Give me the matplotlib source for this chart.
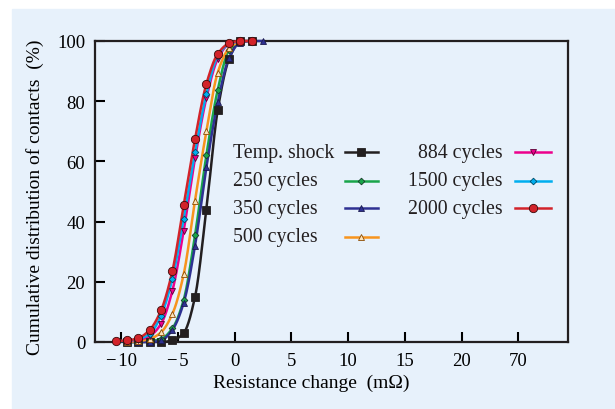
import numpy as np
import matplotlib
matplotlib.use("Agg")
import matplotlib.pyplot as plt
from matplotlib.lines import Line2D

# ---------------- data ----------------
x_grid = [-10.5, -9.5, -8.5, -7.5, -6.5, -5.5, -4.5, -3.5, -2.5, -1.5, -0.5, 0.5, 1.5, 2.5]

temp_shock_x = x_grid[1:13]
temp_shock = [0, 0, 0, 0, 0.5, 3, 15, 44, 77, 94, 100, 100]

c250_x = x_grid[1:12]
c250 = [0, 0, 0.3, 1, 4.5, 14, 35.5, 62, 83.7, 97, 100]

c350_x = x_grid[1:14]
c350 = [0, 0, 0, 0.5, 4, 13, 32, 58, 79.6, 94.3, 99.5, 100, 100]

c500_x = x_grid[1:12]
c500 = [0, 0.3, 1, 3.2, 9.3, 22.5, 47, 70, 89.5, 97.6, 100]

c884_x = x_grid[1:12]
c884 = [0.3, 0.7, 2, 6, 17, 37, 61, 81, 94, 99, 100]

c1500_x = x_grid[0:12]
c1500 = [0.2, 0.4, 1, 2.7, 8.7, 21, 41, 63, 82.4, 95, 99, 100]

c2000_x = x_grid[0:13]
c2000 = [0.3, 0.5, 1.3, 4, 10.5, 23.5, 45.5, 67.4, 85.7, 95.7, 99.2, 100, 100]

labels = ["Temp. shock", "250 cycles", "350 cycles", "500 cycles",
          "884 cycles", "1500 cycles", "2000 cycles"]
xticks = [-10, -5, 0, 5, 10, 15, 20, 25]
xticklabels = ["\u2212\u200a10", "\u2212\u200a5", "0", "5", "10", "15", "20", "70"]
yticks = [0, 20, 40, 60, 80, 100]

# ---------------- styles ----------------
BG = "#e7f1fb"
styles = [
    dict(color="#231f20", marker="s", ms=5.4, mfc="#231f20", mec="#231f20"),
    dict(color="#19a54a", marker="D", ms=3.4, mfc="#19a54a", mec="#1a3a2a"),
    dict(color="#2e3192", marker="^", ms=4.8, mfc="#2e3192", mec="#1a1a50"),
    dict(color="#f7941d", marker="^", ms=4.8, mfc="#fde3b8", mec="#8a4a00"),
    dict(color="#ec008c", marker="v", ms=4.8, mfc="#ec008c", mec="#5a0035"),
    dict(color="#00aeef", marker="D", ms=3.4, mfc="#00aeef", mec="#004a66"),
    dict(color="#d2232a", marker="o", ms=6.0, mfc="#d2232a", mec="#3a0a0a"),
]
series = [(temp_shock_x, temp_shock), (c250_x, c250), (c350_x, c350),
          (c500_x, c500), (c884_x, c884), (c1500_x, c1500), (c2000_x, c2000)]


def pchip(x, y, n=30):
    x = np.asarray(x, float)
    y = np.asarray(y, float)
    h = np.diff(x)
    d = np.diff(y) / h
    m = np.zeros_like(y)
    for i in range(1, len(y) - 1):
        if d[i - 1] * d[i] <= 0:
            m[i] = 0
        else:
            w1 = 2 * h[i] + h[i - 1]
            w2 = h[i] + 2 * h[i - 1]
            m[i] = (w1 + w2) / (w1 / d[i - 1] + w2 / d[i])
    m[0] = d[0] if d[0] > 0 else 0
    m[-1] = d[-1] if d[-1] > 0 else 0
    xs, ys = [], []
    for i in range(len(h)):
        t = np.linspace(0, 1, n, endpoint=False)
        h00 = 2 * t**3 - 3 * t**2 + 1
        h10 = t**3 - 2 * t**2 + t
        h01 = -2 * t**3 + 3 * t**2
        h11 = t**3 - t**2
        xs.append(x[i] + t * h[i])
        ys.append(h00 * y[i] + h10 * h[i] * m[i] + h01 * y[i + 1] + h11 * h[i] * m[i + 1])
    xs.append([x[-1]])
    ys.append([y[-1]])
    return np.concatenate(xs), np.concatenate(ys)


plt.rcParams["font.family"] = ["Liberation Serif", "DejaVu Serif"]
plt.rcParams["mathtext.fontset"] = "stix"

fig = plt.figure(figsize=(6.15, 4.10), dpi=100, facecolor="white")
fig.patches.append(plt.Rectangle((12 / 615, 0), 1, (410 - 10) / 410,
                                 transform=fig.transFigure, color=BG, zorder=-10))

ax = fig.add_axes([95 / 615, 1 - 343 / 410, 473 / 615, 301 / 410])
ax.set_facecolor(BG)

for (xs, ys), st in zip(series, styles):
    sx, sy = pchip(xs, ys)
    ax.plot(sx, sy, color=st["color"], lw=1.8, clip_on=False, zorder=3)
    ax.plot(xs, ys, ls="none", marker=st["marker"], ms=st["ms"],
            mfc=st["mfc"], mec=st["mec"], mew=0.6, clip_on=False, zorder=4)

ax.set_xlim(-12.32, 29.39)
ax.set_ylim(0, 100)
ax.set_xticks(xticks)
ax.set_xticklabels(xticklabels)
ax.set_yticks(yticks)
ax.tick_params(direction="in", length=7, width=1.5, labelsize=13.5, pad=7,
               top=False, right=False)
for sp in ax.spines.values():
    sp.set_linewidth(1.6)
    sp.set_color("#231f20")

ax.set_xlabel("Resistance change  (m\u03a9)", fontsize=14)
ax.xaxis.set_label_coords((311 - 95) / 473, -(383 - 343) / 301)
ax.xaxis.label.set_va("center")
ax.set_ylabel("Cumulative distribution of contacts  (%)", fontsize=14)
ax.yaxis.set_label_coords((35 - 95) / 473, 0.5 - (197 - 192.5) / 301)
ax.yaxis.label.set_va("center")

# ---------------- legend (manual, two columns) ----------------
def axf(px, py):
    return (px - 95) / 473, (343 - py) / 301

rows = [153.3, 181.7, 209.3, 237.7]
for i, (lab, st) in enumerate(zip(labels, styles)):
    if i < 4:
        tx, ty = axf(233, rows[i])
        ha = "left"
        h0, h1, hm = 345, 378, 360.5
    else:
        tx, ty = axf(503, rows[i - 4])
        ha = "right"
        h0, h1, hm = 515, 551, 533
    ax.text(tx, ty, lab, transform=ax.transAxes, ha=ha, va="center", fontsize=14.3,
            color="#231f20")
    a0, _ = axf(h0, 0)
    a1, _ = axf(h1, 0)
    am, _ = axf(hm, 0)
    ax.add_line(Line2D([a0, a1], [ty, ty], transform=ax.transAxes,
                       color=st["color"], lw=1.8))
    ax.add_line(Line2D([am], [ty], transform=ax.transAxes, ls="none",
                       marker=st["marker"], ms=st["ms"], mfc=st["mfc"],
                       mec=st["mec"], mew=0.6))

fig.savefig("out.png", dpi=100, facecolor=fig.get_facecolor())
